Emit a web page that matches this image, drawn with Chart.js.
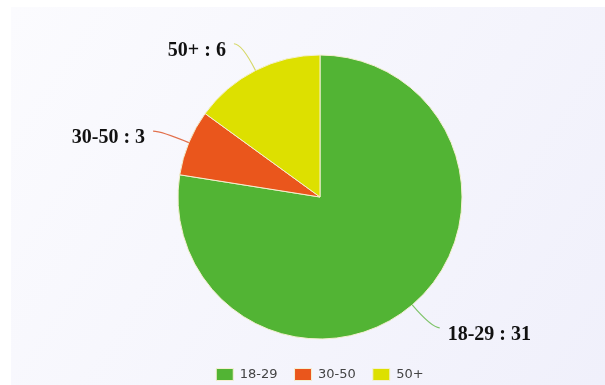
<!DOCTYPE html>
<html>
<head>
<meta charset="utf-8">
<script src="https://cdn.jsdelivr.net/npm/chart.js@4/dist/chart.umd.min.js"></script>
<style>
  html, body { margin: 0; padding: 0; background: #fff; }
  #wrap { width: 605px; height: 385px; position: relative; }
</style>
</head>
<body>
<div id="wrap"><canvas id="ageChart" width="605" height="385"></canvas></div>
<script>
const ageGroups = ['18-29', '30-50', '50+'];
const counts = [31, 3, 6];
const sliceColors = ['#52b434', '#ea561c', '#dde000'];
const lineColors = ['#7fc46a', '#e2704c', '#d6d868'];

// light panel behind the pie
const panelBg = {
  id: 'panelBg',
  beforeDraw(chart) {
    const ctx = chart.ctx;
    const g = ctx.createLinearGradient(11, 7, 605, 385);
    g.addColorStop(0, '#fbfbfe');
    g.addColorStop(1, '#f0f0fb');
    ctx.save();
    ctx.fillStyle = '#ffffff';
    ctx.fillRect(0, 0, chart.width, chart.height);
    ctx.fillStyle = g;
    ctx.fillRect(11, 7, chart.width - 11, chart.height - 7);
    ctx.restore();
  }
};

// outside labels with curved connectors
const outLabels = {
  id: 'outLabels',
  afterDatasetsDraw(chart) {
    const ctx = chart.ctx;
    const arcs = chart.getDatasetMeta(0).data;
    ctx.save();
    arcs.forEach((arc, i) => {
      const p = arc.getProps(['x', 'y', 'startAngle', 'endAngle', 'outerRadius'], true);
      const mid = (p.startAngle + p.endAngle) / 2;
      const cx = Math.cos(mid), cy = Math.sin(mid);
      const x0 = p.x + cx * p.outerRadius, y0 = p.y + cy * p.outerRadius;
      const x1 = x0 + cx * 30, y1 = y0 + cy * 30;
      const side = cx >= 0 ? 1 : -1;
      const x2 = x1 + side * 8, y2 = y1;
      ctx.beginPath();
      ctx.moveTo(x0, y0);
      ctx.quadraticCurveTo(x1, y1, x2, y2);
      ctx.strokeStyle = lineColors[i];
      ctx.lineWidth = 1.2;
      ctx.stroke();
      ctx.font = 'bold 20px "Liberation Serif", "Times New Roman", serif';
      ctx.fillStyle = '#111';
      ctx.textBaseline = 'middle';
      ctx.textAlign = side > 0 ? 'left' : 'right';
      ctx.fillText(ageGroups[i] + ' : ' + counts[i], x2 + side * 8, y2 + 7);
    });
    ctx.restore();
  }
};

new Chart(document.getElementById('ageChart'), {
  type: 'pie',
  data: {
    labels: ageGroups,
    datasets: [{
      data: counts,
      backgroundColor: sliceColors,
      borderColor: '#f4f0d0',
      borderWidth: 1,
      radius: 142
    }]
  },
  options: {
    responsive: false,
    animation: false,
    layout: { padding: { top: 43, left: 35, right: 0, bottom: -6 } },
    plugins: {
      legend: {
        position: 'bottom',
        labels: {
          boxWidth: 17,
          boxHeight: 12,
          padding: 17,
          color: '#444',
          font: { family: '"DejaVu Sans", Verdana, sans-serif', size: 13 }
        }
      },
      tooltip: { enabled: false }
    }
  },
  plugins: [panelBg, outLabels]
});
</script>
</body>
</html>
